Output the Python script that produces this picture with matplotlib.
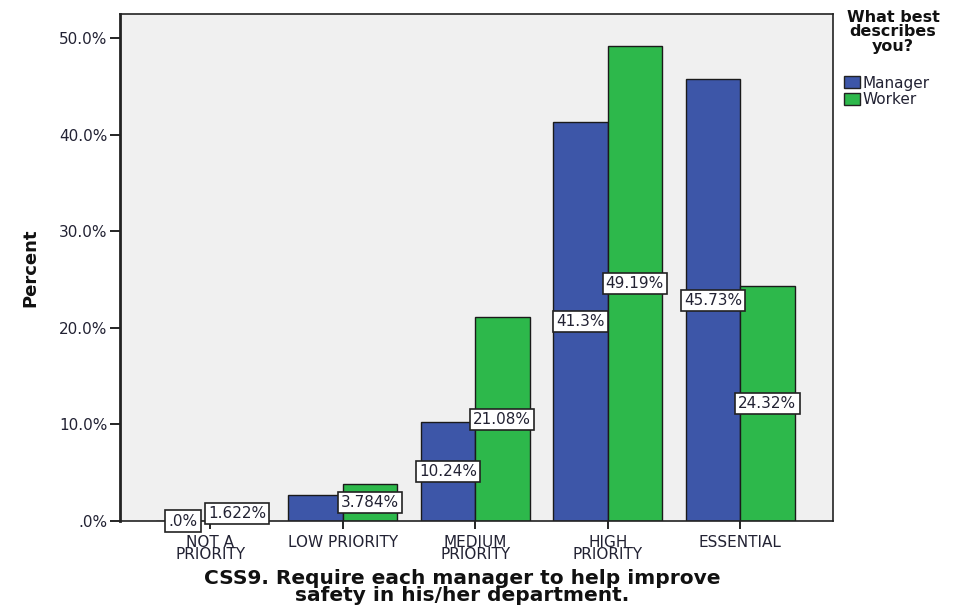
import numpy as np
import matplotlib
matplotlib.use("Agg")
import matplotlib.pyplot as plt
from matplotlib.patches import Patch

categories = ["NOT A\nPRIORITY", "LOW PRIORITY", "MEDIUM\nPRIORITY", "HIGH\nPRIORITY", "ESSENTIAL"]
manager = [0.0, 2.73, 10.24, 41.3, 45.73]
worker = [1.622, 3.784, 21.08, 49.19, 24.32]
manager_labels = [".0%", None, "10.24%", "41.3%", "45.73%"]   # low priority label hidden by overlap
worker_labels = ["1.622%", "3.784%", "21.08%", "49.19%", "24.32%"]
yticks = [0, 10, 20, 30, 40, 50]
ytick_labels = [".0%", "10.0%", "20.0%", "30.0%", "40.0%", "50.0%"]

blue = "#3d56a8"
green = "#2db84b"
txt = "#222233"

fig = plt.figure(figsize=(9.56, 6.05), dpi=100)
ax = fig.add_axes([120 / 956, 1 - 521 / 605, 713 / 956, 507 / 605])
ax.set_facecolor("#f0f0f0")

x = np.arange(len(categories))
w = 0.41
ax.bar(x - w / 2, manager, w, color=blue, edgecolor="#1a1a1a", linewidth=1.0, zorder=2)
ax.bar(x + w / 2, worker, w, color=green, edgecolor="#1a1a1a", linewidth=1.0, zorder=2)

box = dict(boxstyle="square,pad=0.2", facecolor="white", edgecolor="#222222", linewidth=1.2)
for xi, v, lab in zip(x - w / 2, manager, manager_labels):
    if lab:
        ax.text(xi, v / 2, lab, ha="center", va="center", fontsize=11, color=txt, bbox=box, zorder=4)
for xi, v, lab in zip(x + w / 2, worker, worker_labels):
    ax.text(xi, max(v / 2, 0.75), lab, ha="center", va="center", fontsize=11, color=txt, bbox=box, zorder=4)

ax.set_xlim(-0.68, 4.70)
ax.set_ylim(0, 52.48)
ax.set_yticks(yticks)
ax.set_yticklabels(ytick_labels, fontsize=11, color=txt)
ax.set_xticks(x)
ax.set_xticklabels(categories, fontsize=11, color=txt, linespacing=0.8)
ax.tick_params(axis="y", length=7, width=1.2, pad=2)
ax.tick_params(axis="x", length=6, width=1.2, pad=4)
for s in ax.spines.values():
    s.set_linewidth(1.2)
    s.set_color("#222222")
ax.spines["left"].set_linewidth(2.0)

ax.set_ylabel("Percent", fontsize=13, fontweight="bold", family=["Liberation Sans Narrow", "DejaVu Sans"],
              labelpad=14, color="#111111")
fig.text(462 / 956, 1 - 587 / 605, "CSS9. Require each manager to help improve\nsafety in his/her department.",
         ha="center", va="center", fontsize=14.5, fontweight="bold", color="#111111", linespacing=0.85)

# legend title drawn on its own so the gap above the entries can be set
fig.text(893 / 956, 1 - 32 / 605, "What best\ndescribes\nyou?", ha="center", va="center",
         fontsize=11.5, fontweight="bold", color="#111111", linespacing=0.95)
handles = [Patch(facecolor=blue, edgecolor="#222222", label="Manager"),
           Patch(facecolor=green, edgecolor="#222222", label="Worker")]
leg = fig.legend(handles=handles, loc="upper left", bbox_to_anchor=(842 / 956, 1 - 74 / 605),
                 frameon=False, fontsize=11, handlelength=1.1, handleheight=0.85, handletextpad=0.15,
                 labelspacing=0.1, borderaxespad=0, borderpad=0.1)
for t in leg.get_texts():
    t.set_color(txt)

fig.savefig("out.png", dpi=100)
